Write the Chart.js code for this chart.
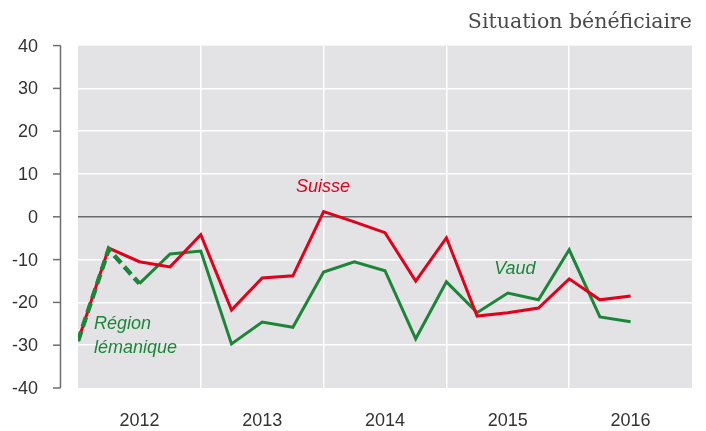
<!DOCTYPE html>
<html lang="fr">
<head>
  <meta charset="UTF-8">
  <title>Situation bénéficiaire</title>
  <script src="https://cdn.jsdelivr.net/npm/chart.js@4.4.0"></script>
  <style>
    body { margin: 0; background: #fff; }
    #chart { display: block; }
  </style>
</head>
<body>
  <canvas id="chart" width="706" height="431"></canvas>
  <script>
    // trimestres 2012 T1 .. 2016 T3 (index 0..18)
    const years = ['2012', '2013', '2014', '2015', '2016'];
    const yTicks = [40, 30, 20, 10, 0, -10, -20, -30, -40];
    const suisse = [-29, -7.3, -10.5, -11.7, -4.2, -21.8, -14.3, -13.8, 1.2, -1.2, -3.7, -15, -4.9, -23.2, -22.4, -21.3, -14.5, -19.4, -18.5];
    const vaud = [null, null, -15.6, -8.7, -8, -29.7, -24.6, -25.8, -12.9, -10.5, -12.6, -28.5, -15.2, -22.4, -17.8, -19.4, -7.7, -23.4, -24.5];
    const lemanique = [-29, -7.6, -15.6];

    const red = '#e2001a';
    const green = '#1c8638';

    const toPoints = arr => arr.map((v, i) => ({ x: i, y: v }));

    const bgPlugin = {
      id: 'bg',
      beforeDraw(chart) {
        const { ctx, chartArea: a } = chart;
        ctx.save();
        ctx.fillStyle = '#e3e3e5';
        ctx.fillRect(a.left, a.top, a.right - a.left, a.bottom - a.top);
        ctx.restore();
      }
    };

    // axe vertical décalé à gauche de la zone du graphique, avec ses graduations
    const yAxisPlugin = {
      id: 'yAxisLeft',
      afterDraw(chart) {
        const { ctx } = chart;
        const y = chart.scales.y;
        const ax = 60.5;
        ctx.save();
        ctx.strokeStyle = '#6e6e6e';
        ctx.lineWidth = 1.5;
        ctx.beginPath();
        ctx.moveTo(ax, y.getPixelForValue(40));
        ctx.lineTo(ax, y.getPixelForValue(-40));
        ctx.stroke();
        ctx.font = '18px "Liberation Sans", Arial, sans-serif';
        ctx.fillStyle = '#333';
        ctx.textAlign = 'right';
        ctx.textBaseline = 'middle';
        yTicks.forEach(t => {
          const py = y.getPixelForValue(t);
          ctx.beginPath();
          ctx.moveTo(53, py);
          ctx.lineTo(ax, py);
          ctx.stroke();
          ctx.fillText(String(t), 38, py + 1);
        });
        ctx.restore();
      }
    };

    const labelsPlugin = {
      id: 'seriesLabels',
      afterDatasetsDraw(chart) {
        const { ctx } = chart;
        const x = chart.scales.x, y = chart.scales.y;
        ctx.save();
        ctx.font = 'italic 18px "Liberation Sans", Arial, sans-serif';
        ctx.textBaseline = 'middle';
        ctx.textAlign = 'center';
        ctx.fillStyle = red;
        ctx.fillText('Suisse', x.getPixelForValue(7.98), y.getPixelForValue(7));
        ctx.fillStyle = green;
        ctx.fillText('Vaud', x.getPixelForValue(14.23), y.getPixelForValue(-12.1));
        ctx.textAlign = 'left';
        ctx.fillText('Région', x.getPixelForValue(0.52), y.getPixelForValue(-25.1));
        ctx.fillText('lémanique', x.getPixelForValue(0.52), y.getPixelForValue(-30.6));
        ctx.restore();
      }
    };

    new Chart(document.getElementById('chart'), {
      type: 'line',
      data: {
        datasets: [
          {
            label: 'Région lémanique',
            data: toPoints(lemanique),
            borderColor: green,
            borderWidth: 4.5,
            borderDash: [10, 5],
            pointRadius: 0,
            tension: 0
          },
          {
            label: 'Suisse',
            data: toPoints(suisse),
            borderColor: red,
            borderWidth: 3,
            pointRadius: 0,
            tension: 0
          },
          {
            label: 'Vaud',
            data: toPoints(vaud),
            borderColor: green,
            borderWidth: 3,
            pointRadius: 0,
            tension: 0
          }
        ]
      },
      options: {
        responsive: false,
        animation: false,
        layout: { padding: { left: 78, right: 14, top: 0, bottom: 1 } },
        plugins: {
          legend: { display: false },
          tooltip: { enabled: false },
          title: {
            display: true,
            text: 'Situation bénéficiaire',
            align: 'end',
            color: '#4a4a4a',
            font: { family: '"DejaVu Serif", serif', size: 20.5, weight: 'normal' },
            padding: { top: 10, bottom: 11 }
          }
        },
        scales: {
          x: {
            type: 'linear',
            min: 0,
            max: 20,
            afterBuildTicks: s => { s.ticks = years.map((_, i) => ({ value: 2 + i * 4 })); },
            afterFit: s => { s.height = 42; },
            ticks: {
              callback: (v) => years[(v - 2) / 4],
              color: '#333',
              font: { family: '"Liberation Sans", Arial, sans-serif', size: 18 },
              padding: 22,
              maxRotation: 0,
              autoSkip: false
            },
            grid: { display: false, drawTicks: false },
            border: { display: false }
          },
          xYears: {
            type: 'linear',
            position: 'top',
            min: 0,
            max: 20,
            afterBuildTicks: s => { s.ticks = [4, 8, 12, 16].map(v => ({ value: v })); },
            afterFit: s => { s.height = 0; },
            ticks: { display: false },
            grid: { color: '#ffffff', lineWidth: 1.5, drawTicks: false },
            border: { display: false }
          },
          y: {
            min: -40,
            max: 40,
            ticks: { display: false, stepSize: 10 },
            grid: {
              drawTicks: false,
              lineWidth: 1.5,
              color: c => c.tick.value === 0 ? '#6a6a6a' : (Math.abs(c.tick.value) === 40 ? 'rgba(0,0,0,0)' : '#ffffff')
            },
            border: { display: false }
          }
        }
      },
      plugins: [bgPlugin, yAxisPlugin, labelsPlugin]
    });
  </script>
</body>
</html>
